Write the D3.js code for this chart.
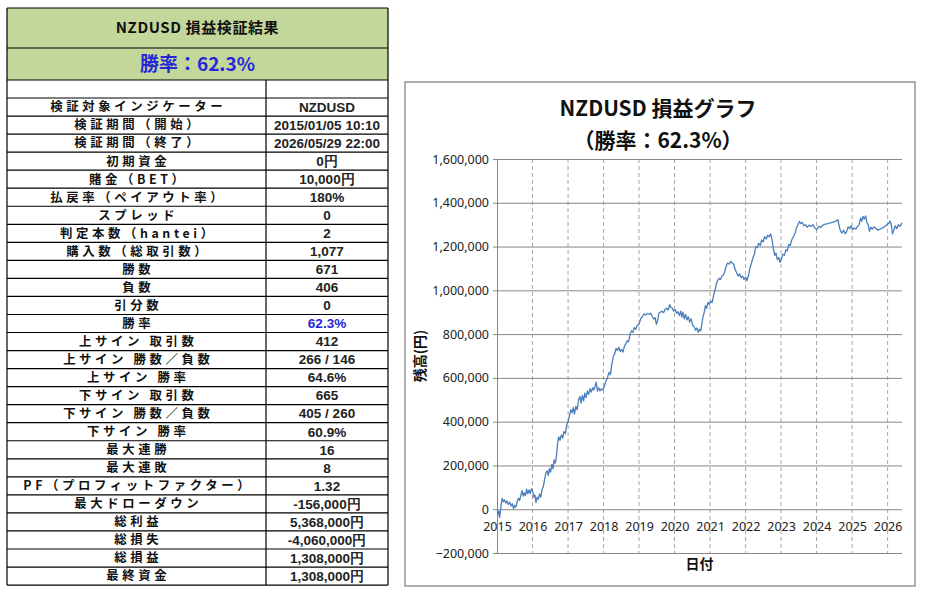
<!DOCTYPE html>
<html>
<head>
<meta charset="utf-8">
<script src="https://cdn.jsdelivr.net/npm/d3@7"></script>
<style>
  body { margin: 0; background: #fff; }
  svg { display: block; }
</style>
</head>
<body>
<svg id="view"></svg>
<script>
const width = 932;
const height = 592;

// table contents
const tableTitle = 'NZDUSD  損益検証結果';
const winRateText = '勝率：62.3%';
const tableLabels = [
  '検証対象インジケーター', '検証期間（開始）', '検証期間（終了）', '初期資金', '賭金（BET）',
  '払戻率（ペイアウト率）', 'スプレッド', '判定本数（hantei）', '購入数（総取引数）', '勝数',
  '負数', '引分数', '勝率', '上サイン 取引数', '上サイン 勝数／負数', '上サイン 勝率',
  '下サイン 取引数', '下サイン 勝数／負数', '下サイン 勝率', '最大連勝', '最大連敗',
  'PF（プロフィットファクター）', '最大ドローダウン', '総利益', '総損失', '総損益', '最終資金'
];
const tableValues = [
  'NZDUSD', '2015/01/05 10:10', '2026/05/29 22:00', '0円', '10,000円',
  '180%', '0', '2', '1,077', '671',
  '406', '0', '62.3%', '412', '266 / 146', '64.6%',
  '665', '405 / 260', '60.9%', '16', '8',
  '1.32', '-156,000円', '5,368,000円', '-4,060,000円', '1,308,000円', '1,308,000円'
];

// chart texts and ticks
const chartTitle = ['NZDUSD 損益グラフ', '（勝率：62.3%）'];
const yTicks = [-200000, 0, 200000, 400000, 600000, 800000, 1000000, 1200000, 1400000, 1600000];
const xYears = [2015, 2016, 2017, 2018, 2019, 2020, 2021, 2022, 2023, 2024, 2025, 2026];

// equity curve (date, balance in yen)
const equityCurve = [
  ['2015-01-05', 0], ['2015-01-12', -25000], ['2015-01-20', -10000], ['2015-01-28', -38000],
  ['2015-02-06', -5000], ['2015-02-16', 30000], ['2015-02-24', 50000], ['2015-03-06', 35000],
  ['2015-03-18', 42000], ['2015-04-01', 28000], ['2015-04-14', 38000], ['2015-04-28', 22000],
  ['2015-05-12', 32000], ['2015-05-26', 15000], ['2015-06-08', 25000], ['2015-06-20', 2000],
  ['2015-07-02', 18000], ['2015-07-14', 10000], ['2015-07-28', 35000], ['2015-08-10', 50000],
  ['2015-08-22', 40000], ['2015-09-03', 62000], ['2015-09-15', 85000], ['2015-09-28', 60000],
  ['2015-10-08', 75000], ['2015-10-20', 62000], ['2015-11-02', 92000], ['2015-11-14', 70000],
  ['2015-11-26', 88000], ['2015-12-08', 72000], ['2015-12-20', 93000], ['2016-01-04', 80000],
  ['2016-01-15', 55000], ['2016-01-26', 65000], ['2016-02-06', 30000], ['2016-02-18', 55000],
  ['2016-03-01', 45000], ['2016-03-14', 70000], ['2016-03-26', 55000], ['2016-04-08', 90000],
  ['2016-04-22', 105000], ['2016-05-06', 140000], ['2016-05-18', 165000], ['2016-06-01', 175000],
  ['2016-06-12', 155000], ['2016-06-24', 185000], ['2016-07-06', 170000], ['2016-07-18', 205000],
  ['2016-07-30', 185000], ['2016-08-10', 225000], ['2016-08-22', 210000], ['2016-09-03', 240000],
  ['2016-09-15', 300000], ['2016-09-27', 330000], ['2016-10-10', 315000], ['2016-10-24', 340000],
  ['2016-11-07', 325000], ['2016-11-20', 355000], ['2016-12-04', 345000], ['2016-12-18', 385000],
  ['2017-01-02', 400000], ['2017-01-16', 430000], ['2017-01-30', 455000], ['2017-02-12', 440000],
  ['2017-02-24', 465000], ['2017-03-08', 435000], ['2017-03-22', 470000], ['2017-04-05', 455000],
  ['2017-04-19', 500000], ['2017-05-03', 515000], ['2017-05-15', 485000], ['2017-05-28', 520000],
  ['2017-06-10', 495000], ['2017-06-22', 530000], ['2017-07-05', 510000], ['2017-07-18', 540000],
  ['2017-08-01', 525000], ['2017-08-14', 550000], ['2017-08-28', 535000], ['2017-09-10', 555000],
  ['2017-09-22', 545000], ['2017-10-05', 560000], ['2017-10-18', 580000], ['2017-10-30', 540000],
  ['2017-11-12', 555000], ['2017-11-26', 540000], ['2017-12-10', 550000], ['2017-12-24', 545000],
  ['2018-01-08', 560000], ['2018-01-24', 585000], ['2018-02-10', 600000], ['2018-02-26', 625000],
  ['2018-03-12', 615000], ['2018-03-28', 665000], ['2018-04-12', 700000], ['2018-04-26', 710000],
  ['2018-05-10', 735000], ['2018-05-24', 725000], ['2018-06-08', 740000], ['2018-06-22', 720000],
  ['2018-07-06', 730000], ['2018-07-20', 718000], ['2018-08-04', 745000], ['2018-08-18', 755000],
  ['2018-09-01', 770000], ['2018-09-16', 765000], ['2018-10-01', 800000], ['2018-10-16', 815000],
  ['2018-10-30', 808000], ['2018-11-14', 830000], ['2018-11-28', 822000], ['2018-12-14', 840000],
  ['2019-01-01', 845000], ['2019-01-18', 870000], ['2019-02-04', 880000], ['2019-02-20', 892000],
  ['2019-03-10', 888000], ['2019-03-28', 893000], ['2019-04-15', 890000], ['2019-05-03', 895000],
  ['2019-05-20', 878000], ['2019-06-04', 868000], ['2019-06-16', 875000], ['2019-06-28', 845000],
  ['2019-07-10', 860000], ['2019-07-24', 895000], ['2019-08-08', 900000], ['2019-08-24', 905000],
  ['2019-09-10', 898000], ['2019-09-26', 912000], ['2019-10-12', 918000], ['2019-10-28', 910000],
  ['2019-11-12', 935000], ['2019-11-26', 922000], ['2019-12-10', 918000], ['2019-12-24', 905000],
  ['2020-01-08', 912000], ['2020-01-22', 895000], ['2020-02-06', 902000], ['2020-02-20', 885000],
  ['2020-03-05', 905000], ['2020-03-16', 878000], ['2020-03-28', 900000], ['2020-04-10', 870000],
  ['2020-04-24', 890000], ['2020-05-08', 865000], ['2020-05-22', 880000], ['2020-06-05', 855000],
  ['2020-06-20', 870000], ['2020-07-05', 840000], ['2020-07-20', 835000], ['2020-08-04', 818000],
  ['2020-08-18', 828000], ['2020-09-01', 808000], ['2020-09-14', 822000], ['2020-09-26', 815000],
  ['2020-10-08', 845000], ['2020-10-20', 880000], ['2020-11-02', 900000], ['2020-11-14', 930000],
  ['2020-11-26', 918000], ['2020-12-10', 945000], ['2020-12-24', 935000], ['2021-01-08', 950000],
  ['2021-01-22', 945000], ['2021-02-05', 975000], ['2021-02-20', 1000000], ['2021-03-06', 1030000],
  ['2021-03-20', 1045000], ['2021-04-04', 1055000], ['2021-04-18', 1050000], ['2021-05-02', 1065000],
  ['2021-05-16', 1070000], ['2021-06-01', 1085000], ['2021-06-15', 1110000], ['2021-06-30', 1125000],
  ['2021-07-15', 1120000], ['2021-08-01', 1132000], ['2021-08-16', 1125000], ['2021-09-01', 1118000],
  ['2021-09-16', 1095000], ['2021-10-01', 1080000], ['2021-10-16', 1065000], ['2021-11-01', 1075000],
  ['2021-11-16', 1058000], ['2021-12-01', 1065000], ['2021-12-16', 1050000], ['2022-01-01', 1060000],
  ['2022-01-16', 1045000], ['2022-02-01', 1070000], ['2022-02-16', 1105000], ['2022-03-03', 1125000],
  ['2022-03-18', 1150000], ['2022-04-02', 1165000], ['2022-04-16', 1200000], ['2022-05-01', 1195000],
  ['2022-05-16', 1215000], ['2022-06-01', 1205000], ['2022-06-16', 1230000], ['2022-07-01', 1222000],
  ['2022-07-16', 1245000], ['2022-08-01', 1235000], ['2022-08-16', 1252000], ['2022-09-01', 1245000],
  ['2022-09-16', 1258000], ['2022-10-01', 1230000], ['2022-10-14', 1190000], ['2022-10-28', 1160000],
  ['2022-11-10', 1170000], ['2022-11-24', 1140000], ['2022-12-08', 1150000], ['2022-12-22', 1128000],
  ['2023-01-06', 1145000], ['2023-01-20', 1165000], ['2023-02-04', 1160000], ['2023-02-20', 1185000],
  ['2023-03-06', 1180000], ['2023-03-22', 1210000], ['2023-04-06', 1205000], ['2023-04-22', 1232000],
  ['2023-05-08', 1245000], ['2023-05-24', 1260000], ['2023-06-08', 1285000], ['2023-06-24', 1300000],
  ['2023-07-08', 1315000], ['2023-07-24', 1305000], ['2023-08-08', 1310000], ['2023-08-24', 1295000],
  ['2023-09-10', 1300000], ['2023-09-28', 1288000], ['2023-10-16', 1298000], ['2023-11-04', 1292000],
  ['2023-11-24', 1300000], ['2023-12-14', 1285000], ['2024-01-04', 1278000], ['2024-01-24', 1292000],
  ['2024-02-14', 1288000], ['2024-03-06', 1298000], ['2024-04-01', 1302000], ['2024-04-28', 1305000],
  ['2024-05-24', 1308000], ['2024-06-20', 1312000], ['2024-07-16', 1316000], ['2024-08-08', 1322000],
  ['2024-08-22', 1290000], ['2024-09-05', 1270000], ['2024-09-20', 1262000], ['2024-10-06', 1275000],
  ['2024-10-22', 1258000], ['2024-11-06', 1268000], ['2024-11-20', 1290000], ['2024-12-05', 1282000],
  ['2024-12-20', 1295000], ['2025-01-06', 1278000], ['2025-01-22', 1285000], ['2025-02-08', 1280000],
  ['2025-02-26', 1292000], ['2025-03-14', 1300000], ['2025-03-28', 1330000], ['2025-04-10', 1315000],
  ['2025-04-22', 1338000], ['2025-05-06', 1325000], ['2025-05-20', 1340000], ['2025-06-02', 1310000],
  ['2025-06-14', 1300000], ['2025-06-28', 1270000], ['2025-07-12', 1288000], ['2025-07-28', 1280000],
  ['2025-08-14', 1290000], ['2025-09-04', 1282000], ['2025-09-26', 1275000], ['2025-10-18', 1280000],
  ['2025-11-10', 1285000], ['2025-12-02', 1292000], ['2025-12-24', 1300000], ['2026-01-10', 1305000],
  ['2026-01-26', 1316000], ['2026-02-08', 1300000], ['2026-02-20', 1258000], ['2026-03-06', 1275000],
  ['2026-03-20', 1295000], ['2026-04-06', 1282000], ['2026-04-22', 1300000], ['2026-05-08', 1292000],
  ['2026-05-29', 1308000]
];

const svg = d3.select('#view')
  .attr('width', width)
  .attr('height', height);

// ---------- results table ----------
const tbl = { x0: 7, x1: 388, split: 266, top: 8, head: 48, green: 80, blank: 98, rowH: 18.04 };
const jpFont = '"Noto Sans CJK JP", "Noto Sans", sans-serif';
const numFont = '"Liberation Sans", Arial, sans-serif';

const table = svg.append('g');

table.append('rect')
  .attr('x', tbl.x0).attr('y', tbl.top)
  .attr('width', tbl.x1 - tbl.x0).attr('height', tbl.green - tbl.top)
  .attr('fill', '#c4d79b');

table.append('text')
  .attr('x', (tbl.x0 + tbl.x1) / 2).attr('y', 33)
  .attr('text-anchor', 'middle')
  .attr('font-family', jpFont).attr('font-weight', 'bold').attr('font-size', 15)
  .attr('letter-spacing', 0.6)
  .attr('fill', '#111')
  .text(tableTitle);

table.append('text')
  .attr('x', (tbl.x0 + tbl.x1) / 2).attr('y', 71)
  .attr('text-anchor', 'middle')
  .attr('font-family', jpFont).attr('font-weight', 'bold').attr('font-size', 19)
  .attr('fill', '#2626d9')
  .text(winRateText);

const rowY = d3.scaleLinear().domain([0, tableLabels.length]).range([tbl.blank, tbl.blank + tbl.rowH * tableLabels.length]);
const tableBottom = rowY(tableLabels.length);

// horizontal borders
const hLines = [tbl.top, tbl.head, tbl.green].concat(d3.range(tableLabels.length + 1).map(i => rowY(i)));
table.selectAll('line.h')
  .data(hLines)
  .enter().append('line')
  .attr('x1', tbl.x0).attr('x2', tbl.x1)
  .attr('y1', d => d).attr('y2', d => d)
  .attr('stroke', '#000').attr('stroke-width', 1.2);

// vertical borders
table.selectAll('line.v')
  .data([[tbl.x0, tbl.top], [tbl.x1, tbl.top], [tbl.split, tbl.green]])
  .enter().append('line')
  .attr('x1', d => d[0]).attr('x2', d => d[0])
  .attr('y1', d => d[1]).attr('y2', tableBottom)
  .attr('stroke', '#000').attr('stroke-width', 1.2);

table.selectAll('text.label')
  .data(tableLabels)
  .enter().append('text')
  .attr('x', (tbl.x0 + tbl.split) / 2 + 1.8)
  .attr('y', (d, i) => rowY(i) + 13.4)
  .attr('text-anchor', 'middle')
  .attr('font-family', jpFont).attr('font-weight', 'bold').attr('font-size', 12.4)
  .attr('letter-spacing', 3.6)
  .attr('fill', '#111')
  .text(d => d);

table.selectAll('text.value')
  .data(tableValues)
  .enter().append('text')
  .attr('x', (tbl.split + tbl.x1) / 2)
  .attr('y', (d, i) => rowY(i) + 13.8)
  .attr('text-anchor', 'middle')
  .attr('font-family', numFont).attr('font-weight', 'bold').attr('font-size', 13.5)
  .attr('fill', (d, i) => tableLabels[i] === '勝率' ? '#2626d9' : '#222')
  .text(d => d);

// ---------- equity chart ----------
const panel = { x: 405, y: 82, w: 510, h: 504 };
const plot = { left: 497, right: 902, top: 159, bottom: 553 };

svg.append('rect')
  .attr('x', panel.x).attr('y', panel.y)
  .attr('width', panel.w).attr('height', panel.h)
  .attr('fill', '#fff').attr('stroke', '#868686').attr('stroke-width', 1.3);

const parseDate = d3.timeParse('%Y-%m-%d');
const series = equityCurve.map(d => ({ date: parseDate(d[0]), value: d[1] }));

const x = d3.scaleTime()
  .domain([new Date(2015, 0, 1), parseDate('2026-05-29')])
  .range([plot.left, plot.right]);

const y = d3.scaleLinear()
  .domain([-200000, 1600000])
  .range([plot.bottom, plot.top]);

const yearDates = xYears.map(yr => new Date(yr, 0, 1));

// vertical dashed year lines
svg.append('g')
  .selectAll('line')
  .data(yearDates.slice(1))
  .enter().append('line')
  .attr('x1', d => x(d)).attr('x2', d => x(d))
  .attr('y1', plot.top).attr('y2', plot.bottom)
  .attr('stroke', '#a6a6a6').attr('stroke-dasharray', '4,3');

// horizontal gridlines + left axis
const yAxis = svg.append('g')
  .attr('transform', `translate(${plot.left},0)`)
  .call(d3.axisLeft(y)
    .tickValues(yTicks)
    .tickSize(-(plot.right - plot.left))
    .tickPadding(8)
    .tickFormat(d3.format(',')));

yAxis.select('.domain').attr('stroke', '#868686');
yAxis.selectAll('.tick line').attr('stroke', '#868686').attr('x1', -4);
yAxis.selectAll('.tick text')
  .attr('font-family', '"Noto Sans", sans-serif')
  .attr('font-size', 12.5)
  .attr('fill', '#222');

// x axis labels sitting under the zero line
const xAxis = svg.append('g')
  .attr('transform', `translate(0,${y(0)})`)
  .call(d3.axisBottom(x)
    .tickValues(yearDates)
    .tickSize(0)
    .tickPadding(13)
    .tickFormat(d3.timeFormat('%Y')));

xAxis.select('.domain').remove();
xAxis.selectAll('.tick text')
  .attr('font-family', '"Noto Sans", sans-serif')
  .attr('font-size', 12.5)
  .attr('fill', '#222');

// equity line
const line = d3.line()
  .x(d => x(d.date))
  .y(d => y(d.value));

svg.append('path')
  .datum(series)
  .attr('d', line)
  .attr('fill', 'none')
  .attr('stroke', '#4a7ebb')
  .attr('stroke-width', 1.3)
  .attr('stroke-linejoin', 'round');

// titles
svg.append('g')
  .selectAll('text')
  .data(chartTitle)
  .enter().append('text')
  .attr('x', 658)
  .attr('y', (d, i) => 116 + i * 32)
  .attr('text-anchor', 'middle')
  .attr('font-family', jpFont).attr('font-weight', 'bold').attr('font-size', 21)
  .attr('fill', '#111')
  .text(d => d);

svg.append('text')
  .attr('transform', `translate(425,${(plot.top + plot.bottom) / 2}) rotate(-90)`)
  .attr('text-anchor', 'middle')
  .attr('font-family', jpFont).attr('font-weight', 'bold').attr('font-size', 14)
  .attr('fill', '#111')
  .text('残高(円)');

svg.append('text')
  .attr('x', (plot.left + plot.right) / 2)
  .attr('y', 569)
  .attr('text-anchor', 'middle')
  .attr('font-family', jpFont).attr('font-weight', 'bold').attr('font-size', 14)
  .attr('fill', '#111')
  .text('日付');
</script>
</body>
</html>
